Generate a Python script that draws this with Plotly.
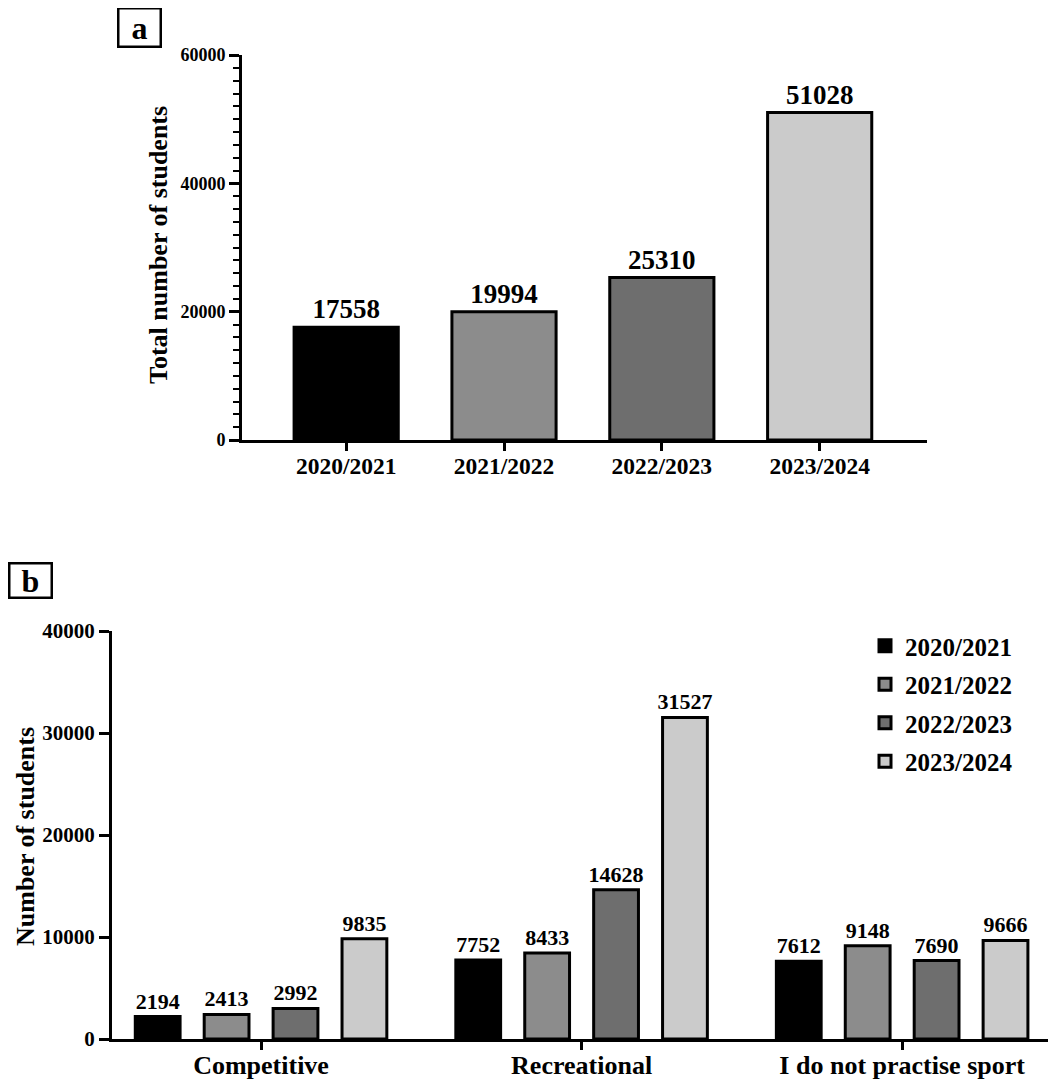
import plotly.graph_objects as go
from plotly.subplots import make_subplots

# data
years = ["2020/2021", "2021/2022", "2022/2023", "2023/2024"]
total_students = [17558, 19994, 25310, 51028]

groups = ["Competitive", "Recreational", "I do not practise sport"]
by_year = {
    "2020/2021": [2194, 7752, 7612],
    "2021/2022": [2413, 8433, 9148],
    "2022/2023": [2992, 14628, 7690],
    "2023/2024": [9835, 31527, 9666],
}
colors = ["#000000", "#8c8c8c", "#6e6e6e", "#cbcbcb"]

FONT = "Liberation Serif"

# page has an 8px body margin, so the figure is shifted; size it to end at the window edge
W, H, OFF = 1048, 1076, 8


def px(x):
    return (x - OFF) / W


def py(y):
    return 1 - (y - OFF) / H


fig = make_subplots(rows=2, cols=1)

# panel a
fig.add_trace(go.Bar(
    x=years, y=total_students,
    width=0.66,
    marker=dict(color=colors, line=dict(color="black", width=3)),
    text=total_students, textposition="outside", cliponaxis=False,
    constraintext="none",
    textfont=dict(family=FONT, size=27, color="black", weight="bold"),
    showlegend=False,
), row=1, col=1)

# panel b
for yr, col in zip(years, colors):
    fig.add_trace(go.Bar(
        x=groups, y=by_year[yr], name=yr, legendgroup=yr,
        marker=dict(color=col, line=dict(color="black", width=3)),
        text=by_year[yr], textposition="outside", cliponaxis=False,
        constraintext="none",
        textfont=dict(family=FONT, size=22, color="black", weight="bold"),
    ), row=2, col=1)

axis_font = dict(family=FONT, color="black", weight="bold")

fig.update_layout(
    width=W, height=H,
    margin=dict(l=0, r=0, t=0, b=0),
    plot_bgcolor="white", paper_bgcolor="white",
    barmode="group", bargap=0.14, bargroupgap=0.35,
    font=dict(family=FONT, color="black"),
    legend=dict(
        x=px(865), y=py(623), xanchor="left", yanchor="top",
        font=dict(family=FONT, size=25, color="black", weight="bold"),
        tracegroupgap=3, bgcolor="rgba(0,0,0,0)",
    ),
    xaxis=dict(
        domain=[px(242), px(927)], range=[-0.66, 3.68], automargin=False,
        showline=True, linecolor="black", linewidth=3,
        ticks="outside", ticklen=8, tickwidth=3, tickcolor="black",
        ticklabelstandoff=-5,
        tickfont=dict(size=23.5, **axis_font), showgrid=False,
    ),
    yaxis=dict(
        domain=[py(440), py(55)], range=[0, 60000], dtick=20000, tickformat="d",
        automargin=False,
        showline=True, linecolor="black", linewidth=3,
        ticks="outside", ticklen=10, tickwidth=3, tickcolor="black",
        minor=dict(dtick=2000, ticks="outside", ticklen=6, tickwidth=2, tickcolor="black", showgrid=False),
        tickfont=dict(size=18, **axis_font), showgrid=False, zeroline=False,
    ),
    xaxis2=dict(
        domain=[px(112), 1.0], range=[-0.465, 2.48], automargin=False,
        showline=True, linecolor="black", linewidth=3,
        ticks="outside", ticklen=8, tickwidth=3, tickcolor="black",
        ticklabelstandoff=-7,
        tickfont=dict(size=26, **axis_font), showgrid=False,
    ),
    yaxis2=dict(
        domain=[py(1039), py(631)], range=[0, 40000], dtick=10000, tickformat="d",
        automargin=False,
        showline=True, linecolor="black", linewidth=3,
        ticks="outside", ticklen=10, tickwidth=3, tickcolor="black",
        tickfont=dict(size=21, **axis_font), showgrid=False, zeroline=False,
    ),
)

fig.add_annotation(
    x=px(158), y=py(245), xref="paper", yref="paper",
    xanchor="center", yanchor="middle",
    text="Total number of students", textangle=-90, showarrow=False,
    font=dict(size=26, **axis_font),
)
fig.add_annotation(
    x=px(25), y=py(837), xref="paper", yref="paper",
    xanchor="center", yanchor="middle",
    text="Number of students", textangle=-90, showarrow=False,
    font=dict(size=26, **axis_font),
)

# panel letters
fig.add_annotation(
    x=px(139), y=py(28), xref="paper", yref="paper",
    xanchor="center", yanchor="middle",
    text="a", showarrow=False, width=38, height=34,
    bordercolor="black", borderwidth=2.5, borderpad=1,
    font=dict(size=32, **axis_font),
)
fig.add_annotation(
    x=px(30), y=py(580), xref="paper", yref="paper",
    xanchor="center", yanchor="middle",
    text="b", showarrow=False, width=38, height=30,
    bordercolor="black", borderwidth=2.5, borderpad=1,
    font=dict(size=32, **axis_font),
)

fig.write_html("out.html")
